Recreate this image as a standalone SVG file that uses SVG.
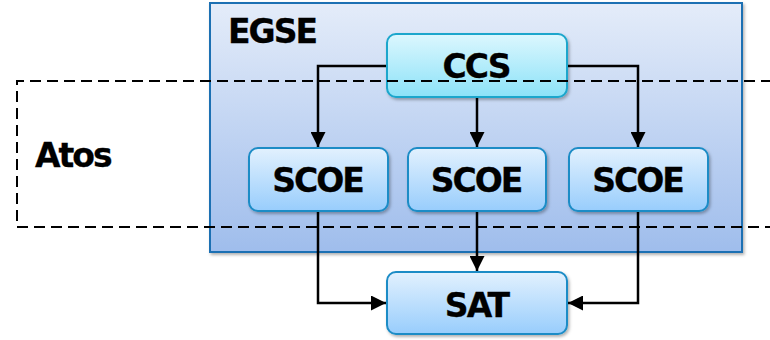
<svg xmlns="http://www.w3.org/2000/svg" width="770" height="340" viewBox="0 0 770 340">
  <style>
    .lbl { font-family: "DejaVu Sans", Verdana, sans-serif; font-weight: bold; font-size: 33px; letter-spacing: -2px; fill: #000; stroke: #000; stroke-width: 0.3px; }
    .mid { text-anchor: middle; }
    .box { fill: url(#gBox); stroke: #1b8cc6; stroke-width: 2; filter: url(#sh); }
    .conn { fill: none; stroke: #000; stroke-width: 2.5; }
  </style>
  <defs>
    <linearGradient id="gEgse" x1="0" y1="0" x2="0" y2="1">
      <stop offset="0" stop-color="#e4ecf9"/>
      <stop offset="1" stop-color="#9fbdec"/>
    </linearGradient>
    <linearGradient id="gCcs" x1="0" y1="0" x2="0" y2="1">
      <stop offset="0" stop-color="#dcf7fe"/>
      <stop offset="1" stop-color="#8ce2f8"/>
    </linearGradient>
    <linearGradient id="gBox" x1="0" y1="0" x2="0" y2="1">
      <stop offset="0" stop-color="#e2f1fe"/>
      <stop offset="1" stop-color="#98cdfc"/>
    </linearGradient>
    <filter id="sh" x="-10%" y="-10%" width="130%" height="130%">
      <feDropShadow dx="1.5" dy="2" stdDeviation="1.5" flood-color="#000" flood-opacity="0.3"/>
    </filter>
    <marker id="arr" viewBox="0 0 15 15" refX="15" refY="7.5" markerWidth="15" markerHeight="15" markerUnits="userSpaceOnUse" orient="auto">
      <path d="M0,0 L15,7.5 L0,15 z" fill="#000"/>
    </marker>
  </defs>

  <g id="egse">
    <rect x="210" y="3" width="532" height="249" fill="url(#gEgse)" stroke="#1a6fb3" stroke-width="2" filter="url(#sh)"/>
    <text class="lbl" x="228" y="43">EGSE</text>
  </g>

  <g id="connectors">
    <path class="conn" d="M387,66 H318 V147" marker-end="url(#arr)"/>
    <path class="conn" d="M477,97 V147" marker-end="url(#arr)"/>
    <path class="conn" d="M567,66 H638 V147" marker-end="url(#arr)"/>
    <path class="conn" d="M318,211 V303 H386" marker-end="url(#arr)"/>
    <path class="conn" d="M477,211 V271" marker-end="url(#arr)"/>
    <path class="conn" d="M638,211 V303 H568" marker-end="url(#arr)"/>
  </g>

  <g id="ccs">
    <rect x="387" y="34" width="180" height="63" rx="9" fill="url(#gCcs)" stroke="#1aa6cc" stroke-width="2" filter="url(#sh)"/>
    <text class="lbl mid" x="476" y="78">CCS</text>
  </g>

  <g id="scoe1">
    <rect class="box" x="249" y="148" width="139" height="63" rx="9"/>
    <text class="lbl mid" x="317.5" y="192">SCOE</text>
  </g>
  <g id="scoe2">
    <rect class="box" x="408" y="148" width="138" height="63" rx="9"/>
    <text class="lbl mid" x="476" y="192">SCOE</text>
  </g>
  <g id="scoe3">
    <rect class="box" x="569" y="148" width="139" height="63" rx="9"/>
    <text class="lbl mid" x="637.5" y="192">SCOE</text>
  </g>

  <g id="sat">
    <rect class="box" x="387" y="272" width="180" height="62" rx="9"/>
    <text class="lbl mid" x="476.5" y="317">SAT</text>
  </g>

  <g id="atos">
    <path d="M772,81 H17 V227 H772" fill="none" stroke="#000" stroke-width="2" stroke-dasharray="11,6"/>
    <text class="lbl" x="35" y="167">Atos</text>
  </g>
</svg>
